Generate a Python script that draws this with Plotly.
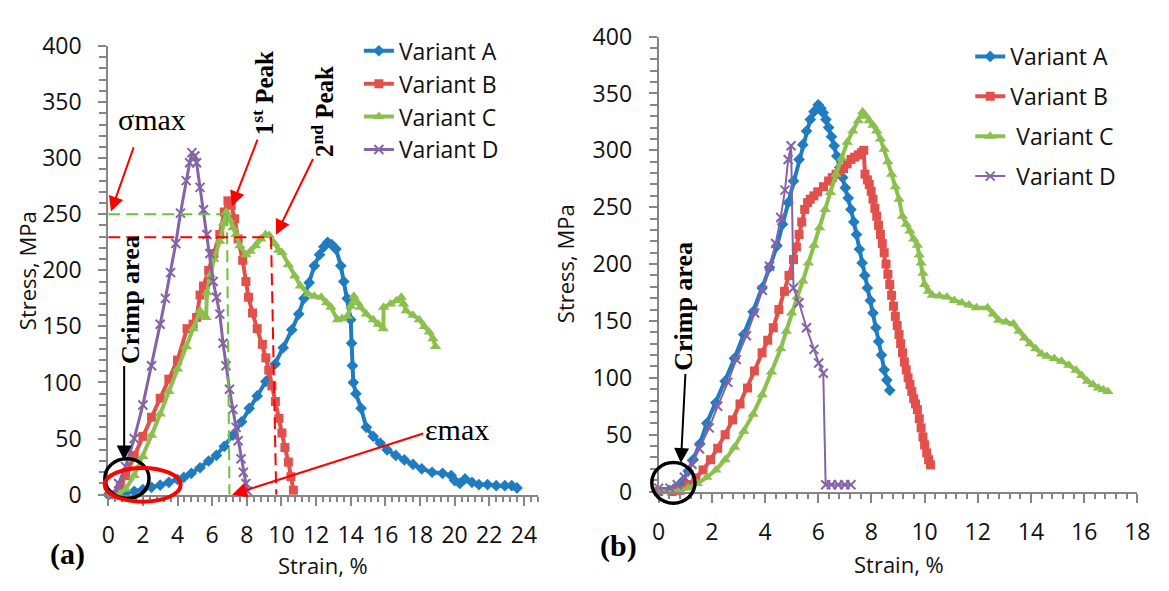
import plotly.graph_objects as go

W, H = 1169, 591

# ---------------- data ----------------
# (a) left panel
a_left_strain = [0, 0.5, 1.0, 1.5, 2.0, 2.5, 3.0, 3.5, 4.0, 4.36, 4.8, 5.3, 5.8, 6.24, 6.7, 7.2, 7.7, 8.14, 8.6, 9.1,
                 9.64, 10.1, 10.6, 11.0, 11.3, 11.6, 11.9, 12.2, 12.45, 12.67, 12.9, 13.15, 13.43, 13.6, 13.8, 14.0,
                 14.05, 14.1, 14.15, 14.3, 14.6, 14.9, 15.3, 15.7, 16.1, 16.6, 17.1, 17.6, 18.1, 18.7, 19.3, 19.8,
                 20.0, 20.3, 20.6, 21.0, 21.4, 21.9, 22.4, 22.9, 23.3, 23.6]
a_left_stress = [0, 0.5, 1.5, 3, 4.5, 6.5, 8.5, 11, 13.5, 15.4, 19, 24, 30, 35, 43, 53, 65, 77, 88, 101,
                 116.5, 131, 147, 161, 175, 189, 204, 214, 221, 225, 223, 219, 204, 190, 175, 156,
                 135, 115, 100, 90, 77, 60, 52, 46, 40, 35, 31, 27, 23, 20, 19, 17,
                 12.6, 10, 14, 11, 9, 9, 8, 8, 8, 6]

b_left_strain = [0.3, 0.7, 1.0, 1.5, 2.0, 2.5, 3.0, 3.5, 4.0, 4.55, 4.9, 5.1, 5.3, 5.5, 5.8, 6.1, 6.44, 6.7, 6.91,
                 7.1, 7.3, 7.5, 7.76, 7.95, 8.1, 8.33, 8.6, 8.9, 9.1, 9.27, 9.45, 9.65, 9.85, 10.03, 10.2, 10.4,
                 10.55, 10.69]
b_left_stress = [0, 8, 17, 35, 52, 69, 86, 103, 120, 148, 152, 158, 178, 186, 200, 215, 232, 252, 262,
                 258, 246, 228, 209, 190, 176, 162, 148, 134, 122, 111, 97, 83, 68, 55, 42, 29,
                 16, 4]

c_left_strain = [0.6, 1.0, 1.5, 2.0, 2.5, 3.0, 3.5, 4.0, 4.5, 4.9, 5.3, 5.5, 5.65, 5.7, 5.9, 6.1, 6.44, 6.65, 6.82,
                 7.0, 7.2, 7.38, 7.6, 7.95, 8.2, 8.5, 8.8, 9.08, 9.3, 9.6, 9.84, 10.03, 10.4, 10.77, 11.1, 11.54,
                 11.9, 12.3, 12.6, 12.86, 13.24, 13.5, 13.8, 14.0, 14.18, 14.4, 14.56, 14.9, 15.3, 15.6, 15.88,
                 15.9, 16.3, 16.64, 16.92, 17.05, 17.2, 17.6, 17.96, 18.25, 18.53, 18.75, 18.9]
c_left_stress = [0, 5, 17, 34, 53, 72, 92, 112, 132, 148, 164, 160, 158, 180, 196, 210, 226, 242, 252,
                 245, 238, 232, 222, 214, 217, 222, 228, 232, 231, 224, 218, 216, 205, 195, 186, 179,
                 177, 176, 171, 167, 156, 157, 159, 168, 177, 171, 167, 161, 156, 152, 148,
                 167, 170, 173, 176, 170, 164, 160, 156, 150, 145, 139, 132]

d_left_strain = [0.3, 0.6, 1.0, 1.5, 2.0, 2.5, 3.0, 3.3, 3.6, 3.9, 4.17, 4.5, 4.7, 4.83, 5.0, 5.1, 5.3, 5.5, 5.7,
                 5.87, 6.06, 6.25, 6.44, 6.63, 6.8, 7.0, 7.2, 7.38, 7.5, 7.67, 7.8, 7.95, 8.05]
d_left_stress = [0, 10, 25, 50, 80, 115, 152, 175, 198, 224, 251, 280, 296, 305, 302, 296, 274, 254, 232,
                 215, 190, 176, 161, 135, 115, 94, 76, 60, 48, 32, 20, 10, 3]

# (b) right panel
a_right_strain = [0, 0.4, 0.7, 0.9, 1.11, 1.3, 1.55, 1.81, 2.15, 2.5, 2.85, 3.2, 3.55, 3.89, 4.17, 4.45, 4.66, 4.87,
                  5.07, 5.28, 5.42, 5.56, 5.7, 5.84, 6.0, 6.1, 6.19, 6.29, 6.39, 6.5, 6.6, 6.7, 6.81, 6.92, 7.02,
                  7.13, 7.23, 7.34, 7.44, 7.55, 7.65, 7.75, 7.85, 7.96, 8.06, 8.17, 8.27, 8.38, 8.48, 8.58, 8.69]
a_right_stress = [0, 1, 4, 9, 18, 28, 42, 60, 78, 97, 117, 138, 158, 179, 197, 216, 235, 254,
                  273, 292, 305, 317, 327, 334, 340, 337, 333, 327, 320, 312, 304, 295, 285, 276, 267,
                  258, 248, 237, 226, 213, 201, 190, 179, 168, 157, 144, 132, 120, 107, 98, 89]

b_right_strain = [0, 0.5, 0.8, 1.11, 1.4, 1.67, 1.95, 2.22, 2.5, 2.78, 3.06, 3.34, 3.6, 3.89, 4.1, 4.31, 4.52, 4.73,
                  4.9, 5.07, 5.18, 5.28, 5.38, 5.49, 5.6, 5.7, 5.84, 5.98, 6.2, 6.39, 6.53, 6.67, 6.81, 6.95, 7.09,
                  7.23, 7.37, 7.51, 7.63, 7.71, 7.76, 7.85, 7.92, 7.99, 8.06, 8.13, 8.2, 8.27, 8.34, 8.41, 8.48,
                  8.55, 8.62, 8.69, 8.76, 8.83, 8.9, 8.97, 9.04, 9.1, 9.17, 9.24, 9.31, 9.38, 9.45, 9.52, 9.59,
                  9.66, 9.73, 9.8, 9.87, 9.94, 10.0, 10.08, 10.15, 10.22]
b_right_stress = [0, 0, 1, 6, 12, 19, 28, 38, 50, 63, 77, 91, 106, 122, 133, 144, 160, 176,
                  190, 204, 215, 226, 237, 248, 254, 257, 260, 263.5, 268, 273, 276, 279, 282, 284, 288,
                  292, 294, 296, 298, 300, 279, 274, 270, 264, 257, 249, 242, 234, 226, 218, 210,
                  200, 191, 182, 172.5, 163, 154, 146, 138, 130, 122, 114, 107, 100, 94, 88, 81.6,
                  77, 72, 64, 56, 48, 41, 34, 28, 23.5]

c_right_strain = [0, 0.5, 0.8, 1.11, 1.45, 1.81, 2.15, 2.5, 2.85, 3.2, 3.55, 3.89, 4.24, 4.59, 4.8, 5.0, 5.21, 5.42,
                  5.63, 5.84, 6.05, 6.26, 6.46, 6.67, 6.88, 7.09, 7.3, 7.51, 7.67, 7.8, 7.92, 8.06, 8.2, 8.34, 8.48,
                  8.62, 8.76, 8.9, 9.04, 9.17, 9.31, 9.45, 9.59, 9.73, 9.8, 9.87, 9.94, 10.0, 10.15, 10.29, 10.56,
                  10.84, 11.12, 11.4, 11.67, 11.95, 12.37, 12.58, 12.79, 13.06, 13.34, 13.55, 13.76, 13.97, 14.18,
                  14.4, 14.6, 14.88, 15.15, 15.43, 15.7, 15.91, 16.12, 16.33, 16.54, 16.72, 16.89]
c_right_stress = [0, 0, 1, 3, 7, 12.5, 19, 28, 39, 53, 68, 85, 105, 125.5, 141, 157, 171, 185,
                  201, 216.5, 232, 248, 263, 279, 293, 307, 317, 326, 334, 330, 326, 322, 317, 310, 301,
                  290, 279, 268, 257, 242, 235, 229, 222, 216.5, 208, 201, 192, 182, 176, 172.5, 172,
                  171, 168, 166, 164, 161.6, 161.6, 156, 150.6, 149, 147.5, 141, 135, 130, 125.5,
                  121, 119, 117, 114.5, 111, 106.7, 102, 97, 94, 91, 89.5, 88]

d_right_strain = [0, 0.42, 0.7, 0.97, 1.25, 1.53, 1.9, 2.22, 2.6, 2.92, 3.3, 3.61, 3.9, 4.17, 4.4, 4.59, 4.75, 4.87,
                  4.98, 5.07, 5.28, 5.56, 5.84, 6.02, 6.19, 6.28, 6.5, 6.75, 7.0, 7.23]
d_right_stress = [3, 3, 6, 12.5, 24, 37.6, 56, 75, 96, 116, 137, 157, 177, 198, 218, 241, 265, 292,
                  304, 179, 166, 144, 125, 113, 104, 6, 6, 6, 6, 6]

series_names = ["Variant A", "Variant B", "Variant C", "Variant D"]
right_names = ["Variant A", "Variant B", "\u00a0Variant C", "\u00a0Variant D"]
y_ticks = [0, 50, 100, 150, 200, 250, 300, 350, 400]

# ---------------- style ----------------
COLORS = ["#1f7cc1", "#e2504c", "#8cc04e", "#8464a6"]
SYMBOLS = ["diamond", "square", "triangle-up", "x-thin"]
SIZES = [9, 9, 10, 9]
LINE_W_LEFT = [4, 4, 4, 3]
LINE_W_RIGHT = [4, 4, 4, 2]
AXIS_GREY = "#868686"
SANS = "Open Sans"
SERIF = "Liberation Serif, Times New Roman, serif"
FS = 23


def P(xp, yp):
    """pixel position -> paper coordinates"""
    return xp / W, 1 - yp / H


fig = go.Figure()

left = [(a_left_strain, a_left_stress), (b_left_strain, b_left_stress),
        (c_left_strain, c_left_stress), (d_left_strain, d_left_stress)]
right = [(a_right_strain, a_right_stress), (b_right_strain, b_right_stress),
         (c_right_strain, c_right_stress), (d_right_strain, d_right_stress)]

for i, (xs, ys) in enumerate(left):
    fig.add_trace(go.Scatter(
        x=xs, y=ys, name=series_names[i], mode="lines+markers",
        line=dict(color=COLORS[i], width=LINE_W_LEFT[i]),
        marker=dict(symbol=SYMBOLS[i], size=SIZES[i], color=COLORS[i],
                    line=dict(color=COLORS[i], width=2 if i == 3 else 0)),
        xaxis="x", yaxis="y", legend="legend", legendgroup="L" + str(i), cliponaxis=False))

for i, (xs, ys) in enumerate(right):
    fig.add_trace(go.Scatter(
        x=xs, y=ys, name=right_names[i], mode="lines+markers",
        line=dict(color=COLORS[i], width=LINE_W_RIGHT[i]),
        marker=dict(symbol=SYMBOLS[i], size=SIZES[i], color=COLORS[i],
                    line=dict(color=COLORS[i], width=2 if i == 3 else 0)),
        xaxis="x2", yaxis="y2", legend="legend2", legendgroup="R" + str(i), cliponaxis=False))

tickfont = dict(family=SANS, size=FS, color="#111111")


def xaxis_style(domain, rng, anchor):
    return dict(domain=domain, range=rng, anchor=anchor, showgrid=False, zeroline=False,
                showline=True, linecolor=AXIS_GREY, linewidth=2,
                tick0=0, dtick=2, ticks="outside", ticklen=9, tickwidth=2, tickcolor=AXIS_GREY,
                minor=dict(dtick=0.4, ticks="outside", ticklen=5, tickwidth=1.5, tickcolor=AXIS_GREY),
                tickfont=tickfont, ticklabelstandoff=10, fixedrange=True)


def yaxis_style(domain, anchor):
    return dict(domain=domain, range=[0, 400], anchor=anchor, showgrid=False, zeroline=False,
                showline=True, linecolor=AXIS_GREY, linewidth=2,
                tickvals=y_ticks, ticks="outside", ticklen=8, tickwidth=2, tickcolor=AXIS_GREY,
                minor=dict(dtick=10, ticks="outside", ticklen=7, tickwidth=1.5, tickcolor=AXIS_GREY),
                tickfont=tickfont, ticklabelstandoff=12, fixedrange=True)


fig.update_layout(
    width=W, height=H, margin=dict(l=0, r=0, t=0, b=0),
    paper_bgcolor="white", plot_bgcolor="white",
    font=dict(family=SANS, size=FS, color="#111111"),
    xaxis=xaxis_style([103 / W, 540 / W], [0, 24.8], "y"),
    yaxis=yaxis_style([1 - 505 / H, 1 - 30.7 / H], "x"),
    xaxis2=xaxis_style([663 / W, 1150 / W], [0, 18], "y2"),
    yaxis2=yaxis_style([1 - 501.7 / H, 1 - 20.7 / H], "x2"),
    legend=dict(x=P(358, 0)[0], y=P(0, 13)[1], xanchor="left", yanchor="top",
                font=dict(family=SANS, size=FS, color="#111111"), bgcolor="rgba(0,0,0,0)",
                tracegroupgap=0, itemclick=False),
    legend2=dict(x=P(980, 0)[0], y=P(0, 19)[1], xanchor="left", yanchor="top",
                 font=dict(family=SANS, size=FS, color="#111111"), bgcolor="rgba(0,0,0,0)",
                 tracegroupgap=7, itemclick=False),
    showlegend=True,
)

# ---------------- dashed guide lines (left panel, data coordinates) ----------------
fig.add_shape(type="line", xref="x", yref="y", x0=0, y0=250, x1=6.85, y1=250,
              line=dict(color="#6cc23a", width=2, dash="12px,6px"))
fig.add_shape(type="line", xref="x", yref="y", x0=6.85, y0=250, x1=7.0, y1=0,
              line=dict(color="#6cc23a", width=2, dash="12px,6px"))
fig.add_shape(type="line", xref="x", yref="y", x0=0, y0=229.5, x1=9.4, y1=229.5,
              line=dict(color="#ff0000", width=2, dash="12px,6px"))
fig.add_shape(type="line", xref="x", yref="y", x0=9.4, y0=229.5, x1=9.7, y1=0,
              line=dict(color="#ff0000", width=2, dash="12px,6px"))


# ---------------- circles / ellipse ----------------
def oval(x0, y0, x1, y1, color, width):
    a, b = P(x0, y1)
    c, d = P(x1, y0)
    fig.add_shape(type="circle", xref="paper", yref="paper", x0=a, y0=b, x1=c, y1=d,
                  line=dict(color=color, width=width), layer="above")


oval(99.5, 467, 144.5, 509, "black", 3.5)
oval(99.4, 476.7, 176.7, 512.5, "#ff0000", 4)
oval(656, 471, 700, 514, "black", 3.5)


# ---------------- arrows ----------------
def arrow(tip, tail, color, width=2, size=1.5):
    x, y = P(*tip)
    fig.add_annotation(x=x, y=y, xref="paper", yref="paper", text="", showarrow=True,
                       ax=tail[0] - tip[0], ay=tail[1] - tip[1], axref="pixel", ayref="pixel",
                       arrowhead=2, arrowsize=size, arrowwidth=width, arrowcolor=color, standoff=0)


arrow((105.8, 205.7), (129, 140), "#ff0000")
arrow((228.8, 200), (255, 132), "#ff0000")
arrow((273.7, 230.2), (311.4, 153), "#ff0000")
arrow((229, 505), (421.7, 443.3), "#ff0000")
arrow((119.2, 469), (119.2, 373), "black")
arrow((685.6, 471.6), (690.2, 381), "black")


# ---------------- texts ----------------
def text(xp, yp, s, size, family, angle=0, color="black"):
    x, y = P(xp, yp)
    fig.add_annotation(x=x, y=y, xref="paper", yref="paper", text=s, showarrow=False,
                       xanchor="center", yanchor="middle", textangle=angle,
                       font=dict(family=family, size=size, color=color))


text(148, 108, "σmax", 30, SERIF)
text(458, 436, "εmax", 30, SERIF)
text(260, 81, "<b>1<sup>st</sup> Peak</b>", 25, SERIF, -90)
text(321, 100, "<b>2<sup>nd</sup> Peak</b>", 25, SERIF, -90)
text(126.4, 299, "<b>Crimp area</b>", 26, SERIF, -90)
text(687.5, 305.6, "<b>Crimp area</b>", 26, SERIF, -90)
text(62, 568, "<b>(a)</b>", 30, SERIF)
text(622, 559, "<b>(b)</b>", 30, SERIF)

text(21, 268, "Stress, MPa", 22, SANS, -90, "#111111")
text(322, 579, "Strain, %", 22, SANS, 0, "#111111")
text(568, 261, "Stress, MPa", 22, SANS, -90, "#111111")
text(908, 578, "Strain, %", 22, SANS, 0, "#111111")

fig.write_html("out.html", config={"displayModeBar": False},
               post_script="document.body.style.margin='0';document.body.style.overflow='hidden';")
